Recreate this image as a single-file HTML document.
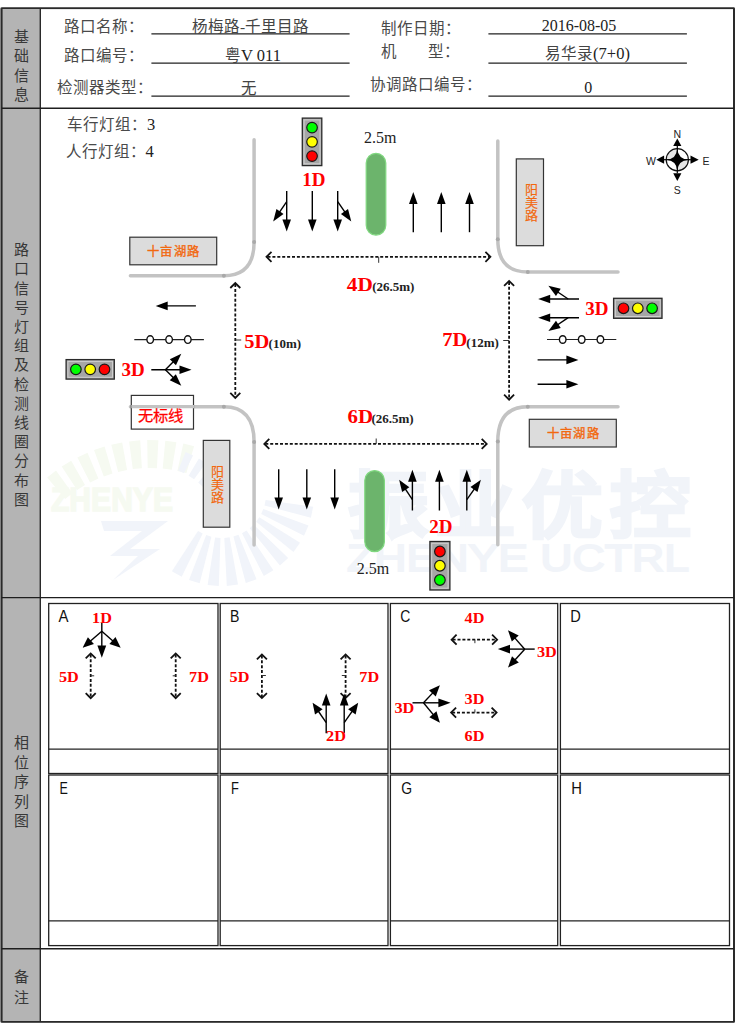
<!DOCTYPE html>
<html lang="zh-CN"><head><meta charset="utf-8"><title>路口信号</title>
<style>
html,body{margin:0;padding:0;background:#fff;width:736px;height:1024px;overflow:hidden}
svg{position:absolute;left:0;top:0;display:block}

</style></head><body>
<svg width="736" height="1024" viewBox="0 0 736 1024">
<rect x="1.5" y="8.3" width="732.5" height="1013.5" fill="none" stroke="#2a2a2a" stroke-width="1.6" />
<rect x="1.5" y="8.3" width="38.8" height="1013.5" fill="#b4b4b4"/>
<line x1="40.3" y1="8.3" x2="40.3" y2="1021.8" stroke="#2a2a2a" stroke-width="1.4" />
<line x1="1.5" y1="8.3" x2="734" y2="8.3" stroke="#2a2a2a" stroke-width="1.6" />
<line x1="1.5" y1="1021.8" x2="734" y2="1021.8" stroke="#2a2a2a" stroke-width="1.6" />
<line x1="1.6" y1="8.3" x2="1.6" y2="1021.8" stroke="#2a2a2a" stroke-width="2" />
<line x1="734" y1="8.3" x2="734" y2="1021.8" stroke="#2a2a2a" stroke-width="2" />
<line x1="1.5" y1="108.3" x2="734" y2="108.3" stroke="#1e1e1e" stroke-width="1.4" />
<line x1="1.5" y1="597.6" x2="734" y2="597.6" stroke="#1e1e1e" stroke-width="1.4" />
<line x1="1.5" y1="948.8" x2="734" y2="948.8" stroke="#1e1e1e" stroke-width="1.4" />
<text x="21.2" y="41.6" font-family="Liberation Serif" font-size="15" fill="#383838" font-weight="normal" text-anchor="middle" >基</text>
<text x="21.2" y="61.1" font-family="Liberation Serif" font-size="15" fill="#383838" font-weight="normal" text-anchor="middle" >础</text>
<text x="21.2" y="80.6" font-family="Liberation Serif" font-size="15" fill="#383838" font-weight="normal" text-anchor="middle" >信</text>
<text x="21.2" y="100.1" font-family="Liberation Serif" font-size="15" fill="#383838" font-weight="normal" text-anchor="middle" >息</text>
<text x="21.2" y="255.2" font-family="Liberation Serif" font-size="15" fill="#383838" font-weight="normal" text-anchor="middle" >路</text>
<text x="21.2" y="274.4" font-family="Liberation Serif" font-size="15" fill="#383838" font-weight="normal" text-anchor="middle" >口</text>
<text x="21.2" y="293.59999999999997" font-family="Liberation Serif" font-size="15" fill="#383838" font-weight="normal" text-anchor="middle" >信</text>
<text x="21.2" y="312.79999999999995" font-family="Liberation Serif" font-size="15" fill="#383838" font-weight="normal" text-anchor="middle" >号</text>
<text x="21.2" y="332.0" font-family="Liberation Serif" font-size="15" fill="#383838" font-weight="normal" text-anchor="middle" >灯</text>
<text x="21.2" y="351.2" font-family="Liberation Serif" font-size="15" fill="#383838" font-weight="normal" text-anchor="middle" >组</text>
<text x="21.2" y="370.4" font-family="Liberation Serif" font-size="15" fill="#383838" font-weight="normal" text-anchor="middle" >及</text>
<text x="21.2" y="389.6" font-family="Liberation Serif" font-size="15" fill="#383838" font-weight="normal" text-anchor="middle" >检</text>
<text x="21.2" y="408.79999999999995" font-family="Liberation Serif" font-size="15" fill="#383838" font-weight="normal" text-anchor="middle" >测</text>
<text x="21.2" y="428.0" font-family="Liberation Serif" font-size="15" fill="#383838" font-weight="normal" text-anchor="middle" >线</text>
<text x="21.2" y="447.2" font-family="Liberation Serif" font-size="15" fill="#383838" font-weight="normal" text-anchor="middle" >圈</text>
<text x="21.2" y="466.4" font-family="Liberation Serif" font-size="15" fill="#383838" font-weight="normal" text-anchor="middle" >分</text>
<text x="21.2" y="485.59999999999997" font-family="Liberation Serif" font-size="15" fill="#383838" font-weight="normal" text-anchor="middle" >布</text>
<text x="21.2" y="504.79999999999995" font-family="Liberation Serif" font-size="15" fill="#383838" font-weight="normal" text-anchor="middle" >图</text>
<text x="21.2" y="748.2" font-family="Liberation Serif" font-size="15" fill="#383838" font-weight="normal" text-anchor="middle" >相</text>
<text x="21.2" y="767.7" font-family="Liberation Serif" font-size="15" fill="#383838" font-weight="normal" text-anchor="middle" >位</text>
<text x="21.2" y="787.2" font-family="Liberation Serif" font-size="15" fill="#383838" font-weight="normal" text-anchor="middle" >序</text>
<text x="21.2" y="806.7" font-family="Liberation Serif" font-size="15" fill="#383838" font-weight="normal" text-anchor="middle" >列</text>
<text x="21.2" y="826.2" font-family="Liberation Serif" font-size="15" fill="#383838" font-weight="normal" text-anchor="middle" >图</text>
<text x="21.2" y="982.1" font-family="Liberation Serif" font-size="15" fill="#383838" font-weight="normal" text-anchor="middle" >备</text>
<text x="21.2" y="1002.7" font-family="Liberation Serif" font-size="15" fill="#383838" font-weight="normal" text-anchor="middle" >注</text>
<text x="63.9" y="32.3" font-family="Liberation Serif" font-size="15.5" fill="#4a4a4a" font-weight="normal" text-anchor="start" >路口名称：</text>
<text x="63.9" y="61.3" font-family="Liberation Serif" font-size="15.5" fill="#4a4a4a" font-weight="normal" text-anchor="start" >路口编号：</text>
<text x="57.4" y="93.3" font-family="Liberation Serif" font-size="15.5" fill="#4a4a4a" font-weight="normal" text-anchor="start" >检测器类型：</text>
<text x="380.9" y="34.3" font-family="Liberation Serif" font-size="15.5" fill="#4a4a4a" font-weight="normal" text-anchor="start" >制作日期：</text>
<text x="380.9" y="57.3" font-family="Liberation Serif" font-size="15.5" fill="#4a4a4a" font-weight="normal" text-anchor="start" >机</text>
<text x="428" y="57.3" font-family="Liberation Serif" font-size="15.5" fill="#4a4a4a" font-weight="normal" text-anchor="start" >型：</text>
<text x="369.5" y="89.6" font-family="Liberation Serif" font-size="15.5" fill="#4a4a4a" font-weight="normal" text-anchor="start" >协调路口编号：</text>
<line x1="151.4" y1="33.8" x2="349.6" y2="33.8" stroke="#222" stroke-width="1.3" />
<line x1="488.4" y1="33.8" x2="686.9" y2="33.8" stroke="#222" stroke-width="1.3" />
<line x1="151.4" y1="63.2" x2="349.6" y2="63.2" stroke="#222" stroke-width="1.3" />
<line x1="488.4" y1="63.2" x2="686.9" y2="63.2" stroke="#222" stroke-width="1.3" />
<line x1="151.4" y1="96.2" x2="349.6" y2="96.2" stroke="#222" stroke-width="1.3" />
<line x1="488.4" y1="96.2" x2="686.9" y2="96.2" stroke="#222" stroke-width="1.3" />
<text x="250.5" y="31.5" font-family="Liberation Serif" font-size="15.5" fill="#444" font-weight="normal" text-anchor="middle" >杨梅路-千里目路</text>
<text x="253" y="60.5" font-family="Liberation Serif" font-size="15.5" fill="#444" font-weight="normal" text-anchor="middle" >粤<tspan font-size="16.5" fill="#222">V 011</tspan></text>
<text x="248.6" y="93.5" font-family="Liberation Serif" font-size="15.5" fill="#444" font-weight="normal" text-anchor="middle" >无</text>
<text x="579" y="31" font-family="Liberation Serif" font-size="16" fill="#222" font-weight="normal" text-anchor="middle" >2016-08-05</text>
<text x="587.5" y="59.3" font-family="Liberation Serif" font-size="15.5" fill="#444" font-weight="normal" text-anchor="middle" >易华录<tspan font-size="16.5" fill="#222">(7+0)</tspan></text>
<text x="588.2" y="92.5" font-family="Liberation Serif" font-size="16" fill="#222" font-weight="normal" text-anchor="middle" >0</text>
<polygon points="265.6,500.1 313.1,506.8 310.9,517.8 264.5,505.4" fill="#f1f4fa"/>
<polygon points="263.3,509.0 308.5,525.5 304.0,535.8 261.2,514.0" fill="#f1f4fa"/>
<polygon points="259.3,517.3 300.0,542.8 293.5,551.9 256.2,521.7" fill="#f1f4fa"/>
<polygon points="253.7,524.6 288.2,557.9 279.9,565.5 249.7,528.2" fill="#f1f4fa"/>
<polygon points="246.6,530.5 273.4,570.3 263.8,576.0 242.0,533.2" fill="#f1f4fa"/>
<polygon points="238.5,534.8 256.5,579.3 245.8,582.9 233.4,536.5" fill="#f1f4fa"/>
<polygon points="229.6,537.3 238.0,584.6 226.8,585.9 224.3,537.9" fill="#f1f4fa"/>
<polygon points="220.5,538.0 218.8,585.9 207.6,584.9 215.1,537.5" fill="#f1f4fa"/>
<polygon points="211.4,536.7 199.7,583.3 189.0,579.9 206.2,535.1" fill="#f1f4fa"/>
<polygon points="202.7,533.5 181.7,576.7 171.9,571.2 198.0,530.9" fill="#f1f4fa"/>
<polygon points="65.2,498.9 47.2,477.4 56.0,470.6 72.4,493.2" fill="#f6faf1"/>
<polygon points="77.1,489.9 61.7,466.6 71.2,460.7 85.0,485.1" fill="#f6faf1"/>
<polygon points="90.1,482.4 77.4,457.4 87.5,452.7 98.4,478.5" fill="#f6faf1"/>
<polygon points="103.8,476.4 94.0,450.1 104.6,446.6 112.5,473.4" fill="#f6faf1"/>
<polygon points="118.1,471.9 111.3,444.8 122.2,442.4 127.1,470.0" fill="#f6faf1"/>
<polygon points="132.8,469.1 129.1,441.4 140.2,440.3 141.9,468.2" fill="#f6faf1"/>
<polygon points="147.7,468.0 147.2,440.0 158.4,440.2 156.9,468.2" fill="#f6faf1"/>
<polygon points="162.7,468.6 165.3,440.7 176.4,442.2 171.8,469.8" fill="#f6faf1"/>
<polygon points="177.4,470.9 183.3,443.5 194.1,446.2 186.4,473.1" fill="#f6faf1"/>
<polygon points="178.1,470.5 185.6,451.9 193.1,455.4 184.0,473.2" fill="#f1f4fa"/>
<polygon points="188.6,475.7 198.9,458.6 205.8,463.1 194.1,479.3" fill="#f1f4fa"/>
<polygon points="198.2,482.5 211.1,467.2 217.2,472.8 203.0,487.0" fill="#f1f4fa"/>
<polygon points="206.6,490.8 221.7,477.7 226.9,484.2 210.7,495.9" fill="#f1f4fa"/>
<polygon points="101,521 168,521 130,549 160,549 113,580 138,556 110,556 142,531 104,531" fill="#f1f4fa"/>
<text x="51" y="511" font-family="Liberation Sans" font-weight="bold" font-size="33" fill="#f6faf1" stroke="#f6faf1" stroke-width="1.5" textLength="122" lengthAdjust="spacingAndGlyphs">ZHENYE</text>
<text transform="translate(348,530.5) scale(1.12,1)" font-family="Liberation Sans" font-weight="bold" font-size="72" fill="#f1f4f9" stroke="#f1f4f9" stroke-width="2.5" letter-spacing="6.3">振业优控</text>
<text x="347" y="571" font-family="Liberation Sans" font-size="37" fill="#f1f4f9" stroke="#f1f4f9" stroke-width="1.8" textLength="342" lengthAdjust="spacingAndGlyphs">ZHENYE UCTRL</text>
<text x="66.9" y="130" font-family="Liberation Serif" font-size="15.5" fill="#4a4a4a" font-weight="normal" text-anchor="start" >车行灯组：<tspan font-size="16.5" fill="#222">3</tspan></text>
<text x="65.5" y="157" font-family="Liberation Serif" font-size="15.5" fill="#4a4a4a" font-weight="normal" text-anchor="start" >人行灯组：<tspan font-size="16.5" fill="#222">4</tspan></text>
<path d="M254.1,139.8 L254.1,242 Q254.1,275.7 223.9,275.7 L130.4,275.7" fill="none" stroke="#c3c3c3" stroke-width="3.5" stroke-linecap="round"/>
<path d="M497.8,140.9 L497.8,239.3 Q497.8,272 527.8,272 L618,272" fill="none" stroke="#c3c3c3" stroke-width="3.5" stroke-linecap="round"/>
<path d="M130.4,406.7 L223.9,406.7 Q254.1,406.7 254.1,442 L254.1,545" fill="none" stroke="#c3c3c3" stroke-width="3.5" stroke-linecap="round"/>
<path d="M618,406.7 L527.8,406.7 Q497.8,406.7 497.8,441.5 L497.8,544.8" fill="none" stroke="#c3c3c3" stroke-width="3.5" stroke-linecap="round"/>
<circle cx="254.1" cy="242" r="2" fill="#a9a9a9"/>
<circle cx="223.9" cy="275.7" r="2" fill="#a9a9a9"/>
<circle cx="497.8" cy="239.3" r="2" fill="#a9a9a9"/>
<circle cx="527.8" cy="272" r="2" fill="#a9a9a9"/>
<circle cx="223.9" cy="406.7" r="2" fill="#a9a9a9"/>
<circle cx="254.1" cy="442" r="2" fill="#a9a9a9"/>
<circle cx="527.8" cy="406.7" r="2" fill="#a9a9a9"/>
<circle cx="497.8" cy="441.5" r="2" fill="#a9a9a9"/>
<rect x="129.8" y="237.2" width="86.9" height="27.6" fill="#dcdcdc" stroke="#333" stroke-width="1.2" />
<text x="173.85" y="255.7" font-family="Liberation Sans" font-size="12.3" fill="#f2680f" font-weight="normal" text-anchor="middle" letter-spacing="1.4" stroke="#f2680f" stroke-width="0.35">十亩湖路</text>
<rect x="529.3" y="419.3" width="87" height="27.7" fill="#dcdcdc" stroke="#333" stroke-width="1.2" />
<text x="573.4" y="437.85" font-family="Liberation Sans" font-size="12.3" fill="#f2680f" font-weight="normal" text-anchor="middle" letter-spacing="1.4" stroke="#f2680f" stroke-width="0.35">十亩湖路</text>
<rect x="516.3" y="158.9" width="27.2" height="86.8" fill="#dcdcdc" stroke="#333" stroke-width="1.2" />
<text x="531.1" y="194.3" font-family="Liberation Sans" font-size="13" fill="#f2680f" font-weight="normal" text-anchor="middle" stroke="#f2680f" stroke-width="0.15">阳</text>
<text x="531.1" y="207.3" font-family="Liberation Sans" font-size="13" fill="#f2680f" font-weight="normal" text-anchor="middle" stroke="#f2680f" stroke-width="0.15">美</text>
<text x="531.1" y="220.3" font-family="Liberation Sans" font-size="13" fill="#f2680f" font-weight="normal" text-anchor="middle" stroke="#f2680f" stroke-width="0.15">路</text>
<rect x="203.3" y="440.4" width="26.5" height="86.8" fill="#dcdcdc" stroke="#333" stroke-width="1.2" />
<text x="217.75" y="475.79999999999995" font-family="Liberation Sans" font-size="13" fill="#f2680f" font-weight="normal" text-anchor="middle" stroke="#f2680f" stroke-width="0.15">阳</text>
<text x="217.75" y="488.79999999999995" font-family="Liberation Sans" font-size="13" fill="#f2680f" font-weight="normal" text-anchor="middle" stroke="#f2680f" stroke-width="0.15">美</text>
<text x="217.75" y="501.79999999999995" font-family="Liberation Sans" font-size="13" fill="#f2680f" font-weight="normal" text-anchor="middle" stroke="#f2680f" stroke-width="0.15">路</text>
<rect x="131.3" y="395.4" width="62.2" height="33.7" fill="#fff" stroke="#333" stroke-width="1.2" />
<text x="160.3" y="420.5" font-family="Liberation Sans" font-size="15.3" fill="#f00" font-weight="normal" text-anchor="middle" stroke="#f00" stroke-width="0.25">无标线</text>
<line x1="131.3" y1="406.7" x2="194" y2="406.7" stroke="#c3c3c3" stroke-width="3.2"/>
<rect x="366.2" y="153.3" width="19.6" height="81.8" rx="9.8" fill="#6cb46c" stroke="#80d880" stroke-width="1.2"/>
<rect x="364.8" y="470.6" width="19.6" height="81" rx="9.8" fill="#6cb46c" stroke="#80d880" stroke-width="1.2"/>
<text x="380.2" y="142.8" font-family="Liberation Serif" font-size="16" fill="#222" font-weight="normal" text-anchor="middle" >2.5m</text>
<text x="372.9" y="573.9" font-family="Liberation Serif" font-size="16" fill="#222" font-weight="normal" text-anchor="middle" >2.5m</text>
<rect x="302.3" y="118.1" width="19.5" height="47.5" fill="#a6a6a6" stroke="#2a2a2a" stroke-width="1.3" />
<rect x="304.1" y="119.89999999999999" width="15.9" height="43.9" fill="none" stroke="#cfcfcf" stroke-width="1" />
<circle cx="312.05" cy="127.60" r="5.3" fill="#00ff00" stroke="#1a1a1a" stroke-width="1.2"/>
<circle cx="312.05" cy="141.85" r="5.3" fill="#ffff00" stroke="#1a1a1a" stroke-width="1.2"/>
<circle cx="312.05" cy="156.10" r="5.3" fill="#ff0000" stroke="#1a1a1a" stroke-width="1.2"/>
<text transform="translate(302.3,185.7) scale(1.0,1)" font-family="Liberation Serif" font-size="19" fill="#f00" font-weight="bold">1D</text>
<rect x="66.1" y="359.6" width="48.2" height="19.5" fill="#a6a6a6" stroke="#2a2a2a" stroke-width="1.3" />
<rect x="67.89999999999999" y="361.40000000000003" width="44.6" height="15.9" fill="none" stroke="#cfcfcf" stroke-width="1" />
<circle cx="75.90" cy="369.35" r="5.3" fill="#00ff00" stroke="#1a1a1a" stroke-width="1.2"/>
<circle cx="90.20" cy="369.35" r="5.3" fill="#ffff00" stroke="#1a1a1a" stroke-width="1.2"/>
<circle cx="104.50" cy="369.35" r="5.3" fill="#ff0000" stroke="#1a1a1a" stroke-width="1.2"/>
<text transform="translate(121.5,375.9) scale(1.0,1)" font-family="Liberation Serif" font-size="19" fill="#f00" font-weight="bold">3D</text>
<rect x="613.6" y="298.3" width="48.4" height="20" fill="#a6a6a6" stroke="#2a2a2a" stroke-width="1.3" />
<rect x="615.4" y="300.1" width="44.8" height="16.4" fill="none" stroke="#cfcfcf" stroke-width="1" />
<circle cx="623.50" cy="308.30" r="5.3" fill="#ff0000" stroke="#1a1a1a" stroke-width="1.2"/>
<circle cx="637.80" cy="308.30" r="5.3" fill="#ffff00" stroke="#1a1a1a" stroke-width="1.2"/>
<circle cx="652.10" cy="308.30" r="5.3" fill="#00ff00" stroke="#1a1a1a" stroke-width="1.2"/>
<text transform="translate(585.2,314.6) scale(1.0,1)" font-family="Liberation Serif" font-size="19" fill="#f00" font-weight="bold">3D</text>
<rect x="429.9" y="541.5" width="20" height="48.5" fill="#a6a6a6" stroke="#2a2a2a" stroke-width="1.3" />
<rect x="431.7" y="543.3" width="16.4" height="44.9" fill="none" stroke="#cfcfcf" stroke-width="1" />
<circle cx="439.90" cy="551.50" r="5.3" fill="#ff0000" stroke="#1a1a1a" stroke-width="1.2"/>
<circle cx="439.90" cy="565.75" r="5.3" fill="#ffff00" stroke="#1a1a1a" stroke-width="1.2"/>
<circle cx="439.90" cy="580.00" r="5.3" fill="#00ff00" stroke="#1a1a1a" stroke-width="1.2"/>
<text transform="translate(429.2,533) scale(1.0,1)" font-family="Liberation Serif" font-size="19" fill="#f00" font-weight="bold">2D</text>
<line x1="286.7" y1="190.9" x2="286.7" y2="224.4" stroke="#000" stroke-width="1.4" />
<polygon points="286.70,231.60 282.40,219.60 291.00,219.60" fill="#000"/>
<line x1="312.3" y1="190.9" x2="312.3" y2="224.4" stroke="#000" stroke-width="1.4" />
<polygon points="312.30,231.60 308.00,219.60 316.60,219.60" fill="#000"/>
<line x1="337.7" y1="190.9" x2="337.7" y2="224.4" stroke="#000" stroke-width="1.4" />
<polygon points="337.70,231.60 333.40,219.60 342.00,219.60" fill="#000"/>
<line x1="286.7" y1="201.7" x2="277.27004629610076" y2="215.46074725680106" stroke="#000" stroke-width="1.4" />
<polygon points="273.20,221.40 276.44,209.07 283.53,213.93" fill="#000"/>
<line x1="337.7" y1="201.7" x2="347.2095117793098" y2="215.47480750385319" stroke="#000" stroke-width="1.4" />
<polygon points="351.30,221.40 340.94,213.97 348.02,209.08" fill="#000"/>
<line x1="413.3" y1="232.2" x2="413.3" y2="199.1" stroke="#000" stroke-width="1.4" />
<polygon points="413.30,191.90 417.60,203.90 409.00,203.90" fill="#000"/>
<line x1="441.3" y1="232.2" x2="441.3" y2="199.1" stroke="#000" stroke-width="1.4" />
<polygon points="441.30,191.90 445.60,203.90 437.00,203.90" fill="#000"/>
<line x1="469.5" y1="232.2" x2="469.5" y2="199.1" stroke="#000" stroke-width="1.4" />
<polygon points="469.50,191.90 473.80,203.90 465.20,203.90" fill="#000"/>
<line x1="278.7" y1="469.2" x2="278.7" y2="502.40000000000003" stroke="#000" stroke-width="1.4" />
<polygon points="278.70,509.60 274.40,497.60 283.00,497.60" fill="#000"/>
<line x1="306.8" y1="469.2" x2="306.8" y2="502.40000000000003" stroke="#000" stroke-width="1.4" />
<polygon points="306.80,509.60 302.50,497.60 311.10,497.60" fill="#000"/>
<line x1="334.7" y1="469.2" x2="334.7" y2="502.40000000000003" stroke="#000" stroke-width="1.4" />
<polygon points="334.70,509.60 330.40,497.60 339.00,497.60" fill="#000"/>
<line x1="412.4" y1="510.5" x2="412.4" y2="477.0" stroke="#000" stroke-width="1.4" />
<polygon points="412.40,469.80 416.70,481.80 408.10,481.80" fill="#000"/>
<line x1="439.4" y1="510.5" x2="439.4" y2="477.0" stroke="#000" stroke-width="1.4" />
<polygon points="439.40,469.80 443.70,481.80 435.10,481.80" fill="#000"/>
<line x1="466.8" y1="510.5" x2="466.8" y2="477.0" stroke="#000" stroke-width="1.4" />
<polygon points="466.80,469.80 471.10,481.80 462.50,481.80" fill="#000"/>
<line x1="412.4" y1="499.7" x2="403.0869210155516" y2="485.6953699481978" stroke="#000" stroke-width="1.4" />
<polygon points="399.10,479.70 409.33,487.31 402.16,492.07" fill="#000"/>
<line x1="466.8" y1="499.7" x2="476.75134723262613" y2="485.584613854431" stroke="#000" stroke-width="1.4" />
<polygon points="480.90,479.70 477.50,491.99 470.47,487.03" fill="#000"/>
<line x1="195.9" y1="305.9" x2="162.89999999999998" y2="305.9" stroke="#000" stroke-width="1.4" />
<polygon points="155.70,305.90 167.70,301.60 167.70,310.20" fill="#000"/>
<line x1="151.3" y1="369.8" x2="184.3" y2="369.8" stroke="#000" stroke-width="1.4" />
<polygon points="191.50,369.80 179.50,374.10 179.50,365.50" fill="#000"/>
<line x1="165.4" y1="369.8" x2="176.2407497931259" y2="358.8228885742562" stroke="#000" stroke-width="1.4" />
<polygon points="181.30,353.70 175.93,365.26 169.81,359.22" fill="#000"/>
<line x1="165.4" y1="369.8" x2="176.20883117545685" y2="380.6088311754568" stroke="#000" stroke-width="1.4" />
<polygon points="181.30,385.70 169.77,380.26 175.86,374.17" fill="#000"/>
<line x1="579" y1="299" x2="545.4000000000001" y2="299.0" stroke="#000" stroke-width="1.4" />
<polygon points="538.20,299.00 550.20,294.70 550.20,303.30" fill="#000"/>
<line x1="568.2" y1="299" x2="554.3767937493905" y2="289.7147149932774" stroke="#000" stroke-width="1.4" />
<polygon points="548.40,285.70 560.76,288.82 555.96,295.96" fill="#000"/>
<line x1="579" y1="317.7" x2="545.4000000000001" y2="317.7" stroke="#000" stroke-width="1.4" />
<polygon points="538.20,317.70 550.20,313.40 550.20,322.00" fill="#000"/>
<line x1="568.2" y1="317.7" x2="554.3767937493905" y2="326.98528500672256" stroke="#000" stroke-width="1.4" />
<polygon points="548.40,331.00 555.96,320.74 560.76,327.88" fill="#000"/>
<line x1="537.6" y1="359.9" x2="571.1999999999999" y2="359.9" stroke="#000" stroke-width="1.4" />
<polygon points="578.40,359.90 566.40,364.20 566.40,355.60" fill="#000"/>
<line x1="537.6" y1="384.3" x2="571.1999999999999" y2="384.3" stroke="#000" stroke-width="1.4" />
<polygon points="578.40,384.30 566.40,388.60 566.40,380.00" fill="#000"/>
<line x1="134.3" y1="339.6" x2="203.9" y2="339.6" stroke="#222" stroke-width="1.2" />
<ellipse cx="150.2" cy="339.6" rx="3.3" ry="3.8" fill="#fff" stroke="#111" stroke-width="1.4"/>
<ellipse cx="169.1" cy="339.6" rx="3.3" ry="3.8" fill="#fff" stroke="#111" stroke-width="1.4"/>
<ellipse cx="187.8" cy="339.6" rx="3.3" ry="3.8" fill="#fff" stroke="#111" stroke-width="1.4"/>
<line x1="547" y1="339.5" x2="616.3" y2="339.5" stroke="#222" stroke-width="1.2" />
<ellipse cx="562.7" cy="339.5" rx="3.3" ry="3.8" fill="#fff" stroke="#111" stroke-width="1.4"/>
<ellipse cx="581.7" cy="339.5" rx="3.3" ry="3.8" fill="#fff" stroke="#111" stroke-width="1.4"/>
<ellipse cx="600.4" cy="339.5" rx="3.3" ry="3.8" fill="#fff" stroke="#111" stroke-width="1.4"/>
<line x1="267.5" y1="256.8" x2="489.4" y2="256.8" stroke="#111" stroke-width="1.8" stroke-dasharray="3 1.9"/>
<polyline points="271.50,251.80 266.5,256.8 271.50,261.80" fill="none" stroke="#111" stroke-width="1.8"/>
<polyline points="485.40,261.80 490.4,256.8 485.40,251.80" fill="none" stroke="#111" stroke-width="1.8"/>
<line x1="378.7" y1="256.8" x2="378.7" y2="262.8" stroke="#333" stroke-width="1" />
<text transform="translate(346.8,291.1) scale(1.12,1)" font-family="Liberation Serif" font-size="19" fill="#f00" font-weight="bold">4D</text>
<text x="372.2" y="291" font-family="Liberation Serif" font-size="13" fill="#222" font-weight="bold" text-anchor="start" >(26.5m)</text>
<line x1="265.3" y1="443.9" x2="485.7" y2="443.9" stroke="#111" stroke-width="1.8" stroke-dasharray="3 1.9"/>
<polyline points="269.30,438.90 264.3,443.9 269.30,448.90" fill="none" stroke="#111" stroke-width="1.8"/>
<polyline points="481.70,448.90 486.7,443.9 481.70,438.90" fill="none" stroke="#111" stroke-width="1.8"/>
<line x1="376.2" y1="443.9" x2="376.2" y2="438.5" stroke="#333" stroke-width="1" />
<text transform="translate(347.5,422.9) scale(1.1,1)" font-family="Liberation Serif" font-size="19" fill="#f00" font-weight="bold">6D</text>
<text x="371.4" y="422.5" font-family="Liberation Serif" font-size="13" fill="#222" font-weight="bold" text-anchor="start" >(26.5m)</text>
<line x1="235.3" y1="284" x2="235.3" y2="396.9" stroke="#111" stroke-width="1.8" stroke-dasharray="3 1.9"/>
<polyline points="240.30,288.00 235.3,283 230.30,288.00" fill="none" stroke="#111" stroke-width="1.8"/>
<polyline points="230.30,392.90 235.3,397.9 240.30,392.90" fill="none" stroke="#111" stroke-width="1.8"/>
<line x1="235.3" y1="340" x2="241.2" y2="340" stroke="#333" stroke-width="1" />
<text transform="translate(244.3,347.7) scale(1.05,1)" font-family="Liberation Serif" font-size="19.5" fill="#f00" font-weight="bold">5D</text>
<text x="268.6" y="348" font-family="Liberation Serif" font-size="13" fill="#222" font-weight="bold" text-anchor="start" >(10m)</text>
<line x1="509.1" y1="281.9" x2="509.1" y2="398.7" stroke="#111" stroke-width="1.8" stroke-dasharray="3 1.9"/>
<polyline points="514.10,285.90 509.1,280.9 504.10,285.90" fill="none" stroke="#111" stroke-width="1.8"/>
<polyline points="504.10,394.70 509.1,399.7 514.10,394.70" fill="none" stroke="#111" stroke-width="1.8"/>
<line x1="509.1" y1="340.5" x2="503.2" y2="340.5" stroke="#333" stroke-width="1" />
<text transform="translate(442.2,345.9) scale(1.05,1)" font-family="Liberation Serif" font-size="19.5" fill="#f00" font-weight="bold">7D</text>
<text x="466.3" y="346.5" font-family="Liberation Serif" font-size="13" fill="#222" font-weight="bold" text-anchor="start" >(12m)</text>
<path d="M666.1999999999999,159.7 A11.1,11.1 0 0 1 677.3,148.6 L677.3,159.7 Z" fill="#e6e6e6"/>
<path d="M688.4,159.7 A11.1,11.1 0 0 1 677.3,170.79999999999998 L677.3,159.7 Z" fill="#e6e6e6"/>
<circle cx="677.3" cy="159.7" r="11.1" fill="none" stroke="#111" stroke-width="1.2"/>
<path d="M677.3,148.7 Q678.0999999999999,158.89999999999998 688.3,159.7 Q678.0999999999999,160.5 677.3,170.7 Q676.5,160.5 666.3,159.7 Q676.5,158.89999999999998 677.3,148.7 Z" fill="#000"/>
<line x1="677.3" y1="146.1" x2="677.3" y2="173.29999999999998" stroke="#000" stroke-width="1.2" />
<line x1="663.6999999999999" y1="159.7" x2="690.9" y2="159.7" stroke="#000" stroke-width="1.2" />
<polygon points="677.30,138.50 681.40,146.10 673.20,146.10" fill="#000"/>
<polygon points="677.30,180.90 673.20,173.30 681.40,173.30" fill="#000"/>
<polygon points="656.30,159.70 664.10,155.60 664.10,163.80" fill="#000"/>
<polygon points="698.70,159.70 690.50,163.80 690.50,155.60" fill="#000"/>
<text x="677.3" y="137.5" font-family="Liberation Sans" font-size="10.5" fill="#222" font-weight="normal" text-anchor="middle" >N</text>
<text x="677.3" y="193.5" font-family="Liberation Sans" font-size="10.5" fill="#222" font-weight="normal" text-anchor="middle" >S</text>
<text x="650.9" y="164.6" font-family="Liberation Sans" font-size="10.5" fill="#222" font-weight="normal" text-anchor="middle" >W</text>
<text x="706" y="164.6" font-family="Liberation Sans" font-size="10.5" fill="#222" font-weight="normal" text-anchor="middle" >E</text>
<rect x="48.7" y="603.5" width="169.3" height="170" fill="none" stroke="#222" stroke-width="1.3" />
<line x1="48.7" y1="749.2" x2="218" y2="749.2" stroke="#222" stroke-width="1.3" />
<rect x="48.7" y="775" width="169.3" height="170.6" fill="none" stroke="#222" stroke-width="1.3" />
<line x1="48.7" y1="920.9" x2="218" y2="920.9" stroke="#222" stroke-width="1.3" />
<rect x="220.2" y="603.5" width="167.8" height="170" fill="none" stroke="#222" stroke-width="1.3" />
<line x1="220.2" y1="749.2" x2="388" y2="749.2" stroke="#222" stroke-width="1.3" />
<rect x="220.2" y="775" width="167.8" height="170.6" fill="none" stroke="#222" stroke-width="1.3" />
<line x1="220.2" y1="920.9" x2="388" y2="920.9" stroke="#222" stroke-width="1.3" />
<rect x="390.4" y="603.5" width="167.30000000000007" height="170" fill="none" stroke="#222" stroke-width="1.3" />
<line x1="390.4" y1="749.2" x2="557.7" y2="749.2" stroke="#222" stroke-width="1.3" />
<rect x="390.4" y="775" width="167.30000000000007" height="170.6" fill="none" stroke="#222" stroke-width="1.3" />
<line x1="390.4" y1="920.9" x2="557.7" y2="920.9" stroke="#222" stroke-width="1.3" />
<rect x="560.4" y="603.5" width="169.10000000000002" height="170" fill="none" stroke="#222" stroke-width="1.3" />
<line x1="560.4" y1="749.2" x2="729.5" y2="749.2" stroke="#222" stroke-width="1.3" />
<rect x="560.4" y="775" width="169.10000000000002" height="170.6" fill="none" stroke="#222" stroke-width="1.3" />
<line x1="560.4" y1="920.9" x2="729.5" y2="920.9" stroke="#222" stroke-width="1.3" />
<text transform="translate(58.5,621.9) scale(0.87,1)" font-family="Liberation Sans" font-size="17.2" fill="#111">A</text>
<text transform="translate(59.5,794.2) scale(0.73,1)" font-family="Liberation Sans" font-size="17.2" fill="#111">E</text>
<text transform="translate(230.0,621.9) scale(0.82,1)" font-family="Liberation Sans" font-size="17.2" fill="#111">B</text>
<text transform="translate(231.0,794.2) scale(0.75,1)" font-family="Liberation Sans" font-size="17.2" fill="#111">F</text>
<text transform="translate(400.2,621.9) scale(0.81,1)" font-family="Liberation Sans" font-size="17.2" fill="#111">C</text>
<text transform="translate(401.2,794.2) scale(0.81,1)" font-family="Liberation Sans" font-size="17.2" fill="#111">G</text>
<text transform="translate(570.1999999999999,621.9) scale(0.85,1)" font-family="Liberation Sans" font-size="17.2" fill="#111">D</text>
<text transform="translate(571.1999999999999,794.2) scale(0.86,1)" font-family="Liberation Sans" font-size="17.2" fill="#111">H</text>
<text transform="translate(92.1,623.1) scale(1.12,1)" font-family="Liberation Serif" font-size="14.5" fill="#f00" font-weight="bold">1D</text>
<line x1="101.8" y1="623" x2="101.8" y2="648" stroke="#111" stroke-width="1.5" />
<polygon points="101.80,657.70 97.40,645.50 106.20,645.50" fill="#000"/>
<line x1="101.8" y1="631.2" x2="87.59269233132845" y2="643.4834014218723" stroke="#000" stroke-width="1.4" />
<polygon points="82.60,647.80 87.91,637.13 93.93,644.09" fill="#000"/>
<line x1="101.8" y1="631.2" x2="115.74112913019225" y2="643.4445896064123" stroke="#000" stroke-width="1.4" />
<polygon points="120.70,647.80 109.40,644.00 115.47,637.08" fill="#000"/>
<line x1="90.7" y1="654.4" x2="90.7" y2="697.2" stroke="#111" stroke-width="1.8" stroke-dasharray="3 1.9"/>
<polyline points="95.70,658.40 90.7,653.4 85.70,658.40" fill="none" stroke="#111" stroke-width="1.8"/>
<polyline points="85.70,693.20 90.7,698.2 95.70,693.20" fill="none" stroke="#111" stroke-width="1.8"/>
<line x1="90.7" y1="675.8" x2="94.2" y2="675.8" stroke="#333" stroke-width="1" />
<line x1="175.7" y1="654.4" x2="175.7" y2="697.2" stroke="#111" stroke-width="1.8" stroke-dasharray="3 1.9"/>
<polyline points="180.70,658.40 175.7,653.4 170.70,658.40" fill="none" stroke="#111" stroke-width="1.8"/>
<polyline points="170.70,693.20 175.7,698.2 180.70,693.20" fill="none" stroke="#111" stroke-width="1.8"/>
<line x1="175.7" y1="675.8" x2="172.7" y2="675.8" stroke="#333" stroke-width="1" />
<text transform="translate(59.0,682) scale(1.12,1)" font-family="Liberation Serif" font-size="14.5" fill="#f00" font-weight="bold">5D</text>
<text transform="translate(189.1,682) scale(1.12,1)" font-family="Liberation Serif" font-size="14.5" fill="#f00" font-weight="bold">7D</text>
<line x1="261.9" y1="655.4" x2="261.9" y2="697.1" stroke="#111" stroke-width="1.8" stroke-dasharray="3 1.9"/>
<polyline points="266.90,659.40 261.9,654.4 256.90,659.40" fill="none" stroke="#111" stroke-width="1.8"/>
<polyline points="256.90,693.10 261.9,698.1 266.90,693.10" fill="none" stroke="#111" stroke-width="1.8"/>
<line x1="261.9" y1="675.5" x2="265.9" y2="675.5" stroke="#333" stroke-width="1" />
<line x1="345.6" y1="655.4" x2="345.6" y2="697.1" stroke="#111" stroke-width="1.8" stroke-dasharray="3 1.9"/>
<polyline points="350.60,659.40 345.6,654.4 340.60,659.40" fill="none" stroke="#111" stroke-width="1.8"/>
<polyline points="340.60,693.10 345.6,698.1 350.60,693.10" fill="none" stroke="#111" stroke-width="1.8"/>
<line x1="345.6" y1="675.5" x2="341.8" y2="675.5" stroke="#333" stroke-width="1" />
<text transform="translate(229.6,682.2) scale(1.12,1)" font-family="Liberation Serif" font-size="14.5" fill="#f00" font-weight="bold">5D</text>
<text transform="translate(359.3,682.2) scale(1.12,1)" font-family="Liberation Serif" font-size="14.5" fill="#f00" font-weight="bold">7D</text>
<line x1="326.2" y1="733.2" x2="326.2" y2="700.7" stroke="#000" stroke-width="1.4" />
<polygon points="326.20,693.50 330.50,705.50 321.90,705.50" fill="#000"/>
<line x1="344.2" y1="733.2" x2="344.2" y2="700.7" stroke="#000" stroke-width="1.4" />
<polygon points="344.20,693.50 348.50,705.50 339.90,705.50" fill="#000"/>
<line x1="326.2" y1="722.7" x2="316.32396842864324" y2="708.2490420389705" stroke="#000" stroke-width="1.4" />
<polygon points="312.60,702.80 322.60,709.29 315.01,714.48" fill="#000"/>
<line x1="344.2" y1="722.7" x2="354.4024154673045" y2="708.1979951571885" stroke="#000" stroke-width="1.4" />
<polygon points="358.20,702.80 355.63,714.44 348.11,709.15" fill="#000"/>
<text transform="translate(326.1,740.7) scale(1.12,1)" font-family="Liberation Serif" font-size="14.5" fill="#f00" font-weight="bold">2D</text>
<text transform="translate(464.6,622.9) scale(1.12,1)" font-family="Liberation Serif" font-size="14.5" fill="#f00" font-weight="bold">4D</text>
<line x1="452.6" y1="639.7" x2="496.1" y2="639.7" stroke="#111" stroke-width="1.8" stroke-dasharray="3 1.9"/>
<polyline points="456.60,634.70 451.6,639.7 456.60,644.70" fill="none" stroke="#111" stroke-width="1.8"/>
<polyline points="492.10,644.70 497.1,639.7 492.10,634.70" fill="none" stroke="#111" stroke-width="1.8"/>
<line x1="474.9" y1="639.7" x2="474.9" y2="643.2" stroke="#333" stroke-width="1" />
<line x1="534.7" y1="649.1" x2="505.12" y2="649.1" stroke="#000" stroke-width="1.4" />
<polygon points="497.80,649.10 510.00,644.70 510.00,653.50" fill="#000"/>
<line x1="524.7" y1="649.2" x2="512.3572025094786" y2="635.1572962682691" stroke="#000" stroke-width="1.4" />
<polygon points="508.00,630.20 518.72,635.43 511.81,641.50" fill="#000"/>
<line x1="524.7" y1="649.2" x2="512.4356728667557" y2="662.7127915719578" stroke="#000" stroke-width="1.4" />
<polygon points="508.00,667.60 511.99,656.36 518.80,662.55" fill="#000"/>
<text transform="translate(537.0,656.5) scale(1.12,1)" font-family="Liberation Serif" font-size="14.5" fill="#f00" font-weight="bold">3D</text>
<line x1="412.5" y1="702.8" x2="443.28000000000003" y2="702.8" stroke="#000" stroke-width="1.4" />
<polygon points="450.60,702.80 438.40,707.20 438.40,698.40" fill="#000"/>
<line x1="423.5" y1="702.8" x2="435.38690401982973" y2="690.1158036373768" stroke="#000" stroke-width="1.4" />
<polygon points="439.90,685.30 435.73,696.47 429.02,690.18" fill="#000"/>
<line x1="423.5" y1="702.8" x2="435.70253815315044" y2="717.6067383687619" stroke="#000" stroke-width="1.4" />
<polygon points="439.90,722.70 429.35,717.14 436.45,711.29" fill="#000"/>
<text transform="translate(394.5,713.3) scale(1.12,1)" font-family="Liberation Serif" font-size="14.5" fill="#f00" font-weight="bold">3D</text>
<text transform="translate(464.6,704.4) scale(1.12,1)" font-family="Liberation Serif" font-size="14.5" fill="#f00" font-weight="bold">3D</text>
<line x1="452.1" y1="712.6" x2="495.6" y2="712.6" stroke="#111" stroke-width="1.8" stroke-dasharray="3 1.9"/>
<polyline points="456.10,707.60 451.1,712.6 456.10,717.60" fill="none" stroke="#111" stroke-width="1.8"/>
<polyline points="491.60,717.60 496.6,712.6 491.60,707.60" fill="none" stroke="#111" stroke-width="1.8"/>
<line x1="474.9" y1="712.6" x2="474.9" y2="709.3" stroke="#333" stroke-width="1" />
<text transform="translate(464.6,740.7) scale(1.12,1)" font-family="Liberation Serif" font-size="14.5" fill="#f00" font-weight="bold">6D</text>
</svg>
</body></html>
